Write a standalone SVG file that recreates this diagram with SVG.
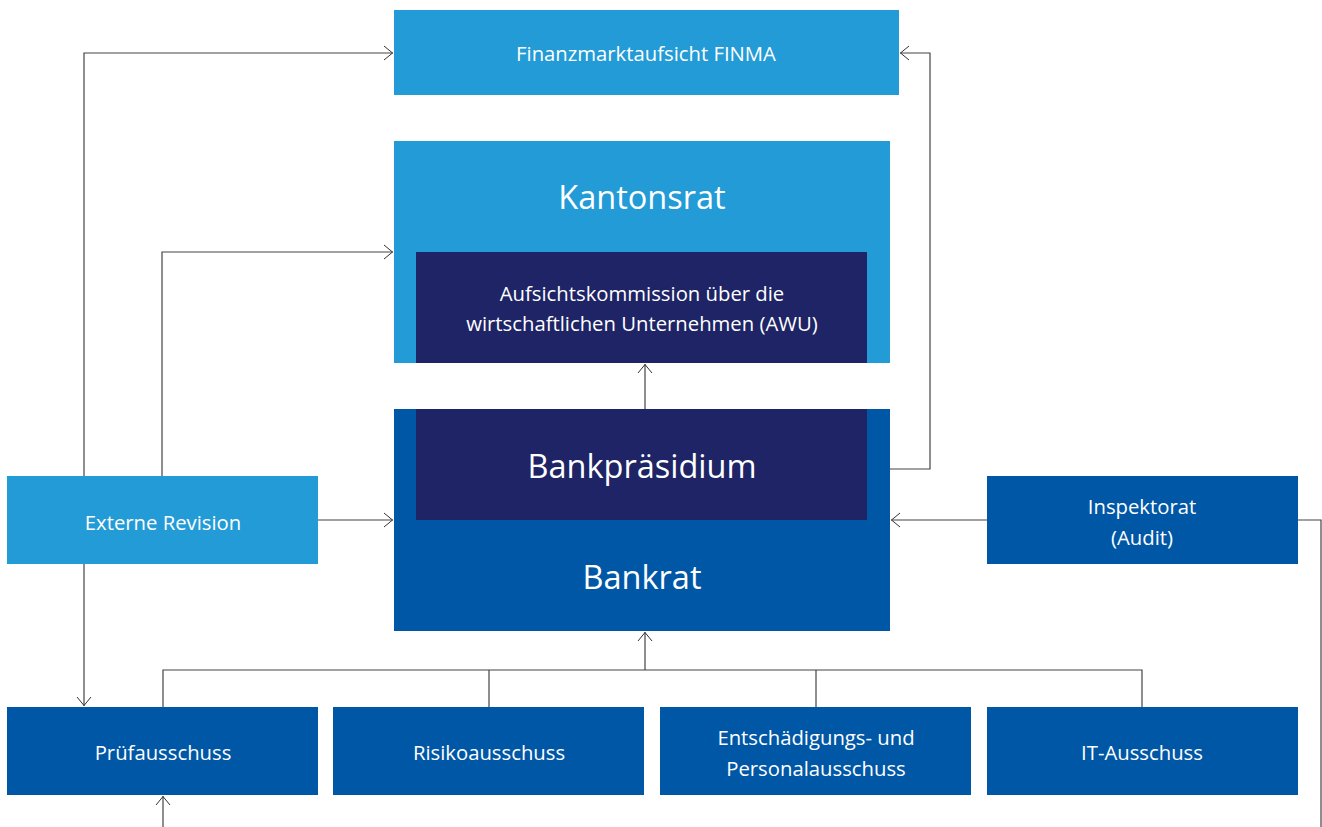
<svg xmlns="http://www.w3.org/2000/svg" width="1322" height="827" viewBox="0 0 1322 827">
<defs>
<marker id="ah" viewBox="0 0 10 16" refX="10" refY="8" markerWidth="10" markerHeight="16" markerUnits="userSpaceOnUse" orient="auto">
<path d="M1,1 L9.5,8 L1,15" fill="none" stroke="#333" stroke-width="1"/>
</marker>
<style>
.lb{fill:#239bd6}
.db{fill:#0057a6}
.nv{fill:#1e2466}
text{font-family:"Open Sans","Noto Sans","Liberation Sans",sans-serif;fill:#fff;text-anchor:middle}
.s{font-size:20.3px}
.l{font-size:32.5px}
.c{fill:none;stroke:#444;stroke-width:1.2}
</style>
</defs>
<rect width="1322" height="827" fill="#fff"/>
<g id="connectors">
<path class="c" d="M84,476 V53 H393" marker-end="url(#ah)"/>
<path class="c" d="M162,476 V252 H393" marker-end="url(#ah)"/>
<path class="c" d="M318,520 H393" marker-end="url(#ah)"/>
<path class="c" d="M84,564 V706" marker-end="url(#ah)"/>
<path class="c" d="M890,469 H930 V53 H900" marker-end="url(#ah)"/>
<path class="c" d="M987,520 H891" marker-end="url(#ah)"/>
<path class="c" d="M1298,520 H1321 V827"/>
<path class="c" d="M645,409 V364" marker-end="url(#ah)"/>
<path class="c" d="M163,707 V670 H1142 V707 M489,707 V670 M816,707 V670"/>
<path class="c" d="M645,670 V632" marker-end="url(#ah)"/>
<path class="c" d="M163,827 V796" marker-end="url(#ah)"/>
</g>
<g id="finma">
<rect class="lb" x="394" y="10" width="505" height="85"/>
<text class="s" x="646" y="61">Finanzmarktaufsicht FINMA</text>
</g>
<g id="kantonsrat">
<rect class="lb" x="394" y="141" width="496" height="222"/>
<text class="l" x="642" y="209">Kantonsrat</text>
</g>
<g id="awu">
<rect class="nv" x="416" y="252" width="451" height="111"/>
<text class="s" x="642" y="301">Aufsichtskommission über die</text>
<text class="s" x="642" y="331">wirtschaftlichen Unternehmen (AWU)</text>
</g>
<g id="bankrat">
<rect class="db" x="394" y="409" width="496" height="222"/>
<text class="l" x="642" y="589">Bankrat</text>
</g>
<g id="bankpraesidium">
<rect class="nv" x="416" y="409" width="451" height="111"/>
<text class="l" x="642" y="478">Bankpräsidium</text>
</g>
<g id="externe-revision">
<rect class="lb" x="7" y="476" width="311" height="88"/>
<text class="s" x="163" y="530">Externe Revision</text>
</g>
<g id="inspektorat">
<rect class="db" x="987" y="476" width="311" height="88"/>
<text class="s" x="1142" y="514">Inspektorat</text>
<text class="s" x="1142" y="545">(Audit)</text>
</g>
<g id="pruefausschuss">
<rect class="db" x="7" y="707" width="311" height="88"/>
<text class="s" x="163" y="760">Prüfausschuss</text>
</g>
<g id="risikoausschuss">
<rect class="db" x="333" y="707" width="311" height="88"/>
<text class="s" x="489" y="760">Risikoausschuss</text>
</g>
<g id="entschaedigung">
<rect class="db" x="660" y="707" width="311" height="88"/>
<text class="s" x="816" y="745">Entschädigungs- und</text>
<text class="s" x="816" y="776">Personalausschuss</text>
</g>
<g id="it-ausschuss">
<rect class="db" x="987" y="707" width="311" height="88"/>
<text class="s" x="1142" y="760">IT-Ausschuss</text>
</g>
</svg>
